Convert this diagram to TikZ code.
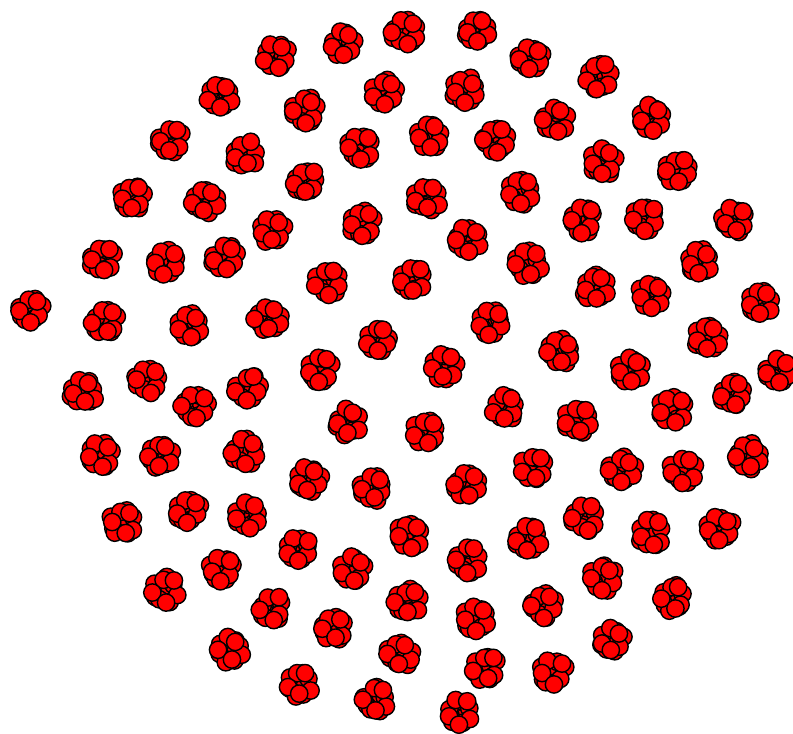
\documentclass[tikz,border=0pt]{standalone}
\tikzset{vtx/.style={circle, draw=black, fill=red, line width=1.2pt, minimum size=5.2mm, inner sep=0pt},
  lnk/.style={draw=black, line width=0.6pt}}
\newcommand\hubs{
 405/32, 477/30, 343/44, 276/56, 530/58, 598/76, 220/96, 385/92, 465/90, 305/110,
 651/118, 555/120, 170/140, 430/136, 495/140, 360/148, 245/154, 603/162, 678/170, 132/198,
 205/200, 305/182, 427/198, 520/192, 735/220, 582/220, 645/218, 363/224, 272/230, 468/240,
 102/260, 165/262, 225/258, 528/264, 700/262, 595/288, 652/295, 760/302, 30/310, 105/322,
 190/326, 268/318, 328/282, 412/278, 490/322, 378/340, 560/352, 708/338, 630/370, 778/372,
 320/370, 443/366, 148/380, 83/392, 248/388, 195/406, 348/422, 425/432, 505/408, 578/420,
 672/410, 733/393, 100/455, 160/455, 245/452, 308/480, 372/488, 468/485, 533/468, 622/470,
 683/470, 748/456, 123/522, 188/510, 248/515, 410/535, 468/560, 528/538, 585/518, 651/533,
 720/528, 165/590, 222/568, 298/550, 352/570, 272/608, 333/628, 408/602, 477/618, 543/605,
 603/578, 673/598, 230/650, 300/684, 400/654, 485/668, 553/672, 612/640, 375/700, 460/712}

\begin{document}
\begin{tikzpicture}[x=0.3mm,y=-0.3mm]
\useasboundingbox (0,0) rectangle (793,734);
\pgfmathsetseed{11}
% spokes first, so the discs cover them
\foreach \cx/\cy [count=\i] in \hubs {
  \coordinate (h\i) at (\cx,\cy);
  \foreach \j in {1,...,11} {
    \pgfmathsetmacro\ang{\j*137.5+rnd*25}
    \pgfmathsetmacro\rad{9.5+rnd*4}
    \coordinate (p\i-\j) at ({\cx+\rad*cos(\ang)},{\cy+\rad*sin(\ang)});
    \draw[lnk] (h\i) -- (p\i-\j);
  }
}
% hubs and leaves
\foreach \cx/\cy [count=\i] in \hubs {
  \node[vtx] (c\i) at (h\i) {};
  \foreach \j in {1,...,11}
    \node[vtx] (l\i-\j) at (p\i-\j) {};
}
\end{tikzpicture}
\end{document}
